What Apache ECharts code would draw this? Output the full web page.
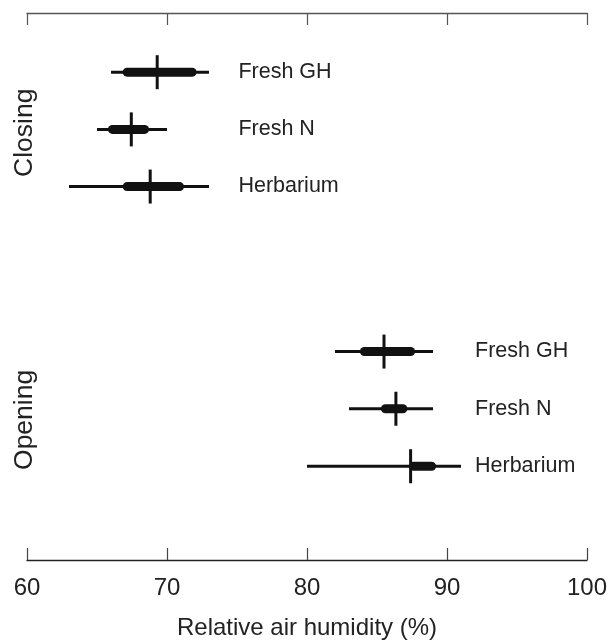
<html>
<head>
<meta charset="utf-8">
<script src="https://cdn.jsdelivr.net/npm/echarts@6/dist/echarts.min.js"></script>
<style>
  html, body, #main { width: 100%; height: 100%; margin: 0; background: #fff; }
</style>
</head>
<body>
<div id="main"></div>
<script>
// group / row names
var groups = ['Closing', 'Opening'];
var rowLabels = ['Fresh GH', 'Fresh N', 'Herbarium', 'Fresh GH', 'Fresh N', 'Herbarium'];
var rowGroup = [0, 0, 0, 1, 1, 1];

// relative air humidity (%) per row
var whiskerLow  = [66.0, 65.0, 63.0, 82.0, 83.0, 80.0];
var boxLow      = [67.15, 66.1, 67.15, 84.1, 85.6, 87.6];
var median      = [69.3, 67.45, 68.8, 85.5, 86.35, 87.4];
var boxHigh     = [71.8, 68.4, 70.9, 87.4, 86.85, 88.9];
var whiskerHigh = [73.0, 70.0, 73.0, 89.0, 89.0, 91.0];

// vertical slot of each row (hidden y scale) and where labels sit
var rowPos = [1, 2, 3, 5.885, 6.885, 7.89];
var groupLabelPos = [2.06, 7.08];
var rowLabelX = [75.1, 92.0];
var groupLabelX = 59.85;

var xTicks = [60, 70, 80, 90, 100];

var FONT = "'Liberation Sans', Arial, sans-serif";
var INK = '#111';

var rows = [];
for (var i = 0; i < rowLabels.length; i++) {
    rows.push([whiskerLow[i], boxLow[i], median[i], boxHigh[i], whiskerHigh[i], rowPos[i], rowLabelX[rowGroup[i]], i]);
}
var groupData = [];
for (var g = 0; g < groups.length; g++) {
    groupData.push([groupLabelX, groupLabelPos[g], g]);
}

var chart = echarts.init(document.getElementById('main'));

var option = {
    animation: false,
    grid: { left: 27, right: 21, top: 13, bottom: 80, outerBoundsMode: 'none', containLabel: false },
    xAxis: [{
        type: 'value', position: 'bottom',
        min: xTicks[0], max: xTicks[xTicks.length - 1], interval: 10,
        splitLine: { show: false },
        axisLine: { show: true, onZero: false, lineStyle: { color: '#222', width: 1.3 } },
        axisTick: { show: true, inside: true, length: 12, lineStyle: { color: '#444', width: 1.2 } },
        axisLabel: { fontSize: 24, color: '#222', fontFamily: FONT, margin: 16 },
        name: 'Relative air humidity (%)',
        nameLocation: 'middle', nameGap: 56,
        nameTextStyle: { fontSize: 24, color: '#222', fontFamily: FONT }
    }, {
        type: 'value', position: 'top',
        min: xTicks[0], max: xTicks[xTicks.length - 1], interval: 10,
        splitLine: { show: false },
        axisLine: { show: true, onZero: false, lineStyle: { color: '#555', width: 1.3 } },
        axisTick: { show: true, inside: true, length: 12, lineStyle: { color: '#555', width: 1.2 } },
        axisLabel: { show: false }
    }],
    yAxis: { type: 'value', min: -0.035, max: 9.53, inverse: true, show: false },
    series: [{
        type: 'custom',
        clip: false,
        data: rows,
        renderItem: function (params, api) {
            var y = api.value(5);
            var wl = api.coord([api.value(0), y]);
            var bl = api.coord([api.value(1), y]);
            var md = api.coord([api.value(2), y]);
            var bh = api.coord([api.value(3), y]);
            var wh = api.coord([api.value(4), y]);
            var lab = api.coord([api.value(6), y]);
            return {
                type: 'group',
                children: [{
                    type: 'line',
                    shape: { x1: wl[0], y1: wl[1], x2: wh[0], y2: wh[1] },
                    style: { stroke: INK, lineWidth: 3 }
                }, {
                    type: 'line',
                    shape: { x1: bl[0], y1: bl[1], x2: bh[0], y2: bh[1] },
                    style: { stroke: INK, lineWidth: 9, lineCap: 'round' }
                }, {
                    type: 'line',
                    shape: { x1: md[0], y1: md[1] - 17, x2: md[0], y2: md[1] + 17 },
                    style: { stroke: INK, lineWidth: 3 }
                }, {
                    type: 'text',
                    x: lab[0], y: lab[1],
                    style: {
                        text: rowLabels[api.value(7)],
                        fontSize: 21.5, fontFamily: FONT, fill: '#222',
                        align: 'left', verticalAlign: 'middle'
                    }
                }]
            };
        }
    }, {
        type: 'custom',
        clip: false,
        data: groupData,
        renderItem: function (params, api) {
            var p = api.coord([api.value(0), api.value(1)]);
            return {
                type: 'text',
                x: p[0], y: p[1],
                rotation: Math.PI / 2,
                style: {
                    text: groups[api.value(2)],
                    fontSize: 26.5, fontFamily: FONT, fill: '#222',
                    align: 'center', verticalAlign: 'middle'
                }
            };
        }
    }]
};
chart.setOption(option);
window.onresize = chart.resize;
</script>
</body>
</html>
